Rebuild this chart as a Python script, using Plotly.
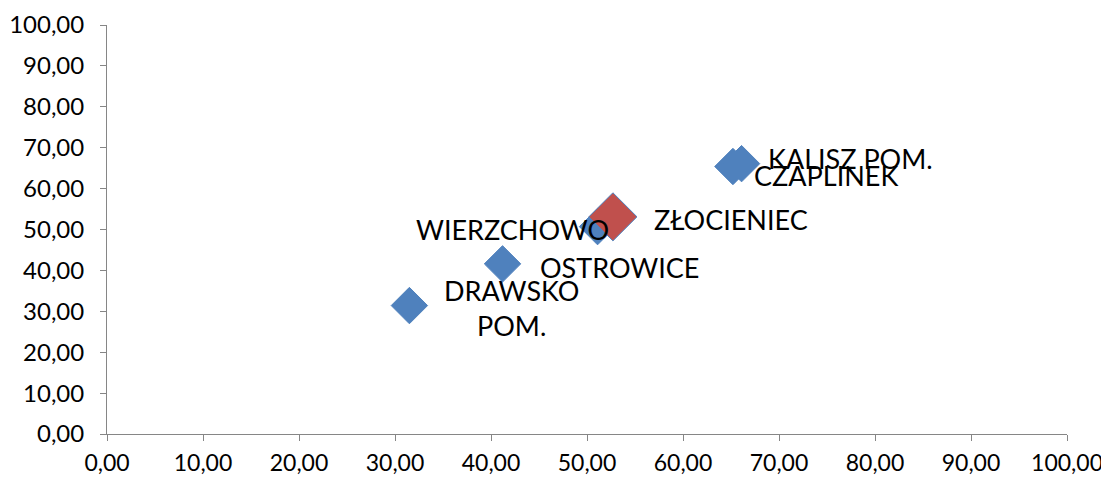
import plotly.graph_objects as go

names = ["DRAWSKO<br>POM.", "OSTROWICE", "WIERZCHOWO", "ZŁOCIENIEC", "CZAPLINEK", "KALISZ POM."]
x_vals = [31.5, 41.2, 51.1, 52.7, 65.2, 66.1]
y_vals = [31.4, 41.6, 50.7, 53.1, 65.4, 66.1]
fill_colors = ["#4F81BD", "#4F81BD", "#4F81BD", "#C0504D", "#4F81BD", "#4F81BD"]
marker_sizes = [28, 28, 28, 37, 28, 28]
label_dx = [102, 117, -85, 118, 93, 109]
label_dy = [-2, -4, -3, -3, -9, 5]
tick_vals = [0, 10, 20, 30, 40, 50, 60, 70, 80, 90, 100]

fig = go.Figure()
fig.add_trace(go.Scatter(
    x=x_vals, y=y_vals, mode="markers",
    marker=dict(symbol="diamond", size=marker_sizes, color=fill_colors, opacity=1,
                line=dict(color="#4F81BD", width=1)),
    hoverinfo="skip", showlegend=False,
))

for n, xv, yv, dx, dy in zip(names, x_vals, y_vals, label_dx, label_dy):
    fig.add_annotation(x=xv, y=yv, text=n, showarrow=False,
                       xshift=dx, yshift=dy, xanchor="center", yanchor="middle",
                       font=dict(family="Lato", size=27, color="#000000"))

axis_common = dict(
    range=[0, 100], tickvals=tick_vals, tickformat=".2f",
    showgrid=False, zeroline=False, showline=True, linecolor="#868686", linewidth=1,
    ticks="outside", ticklen=6, tickcolor="#868686", tickwidth=1,
    automargin=False,
)

fig.update_layout(
    width=1101, height=475, autosize=False,
    margin=dict(l=99, r=42, t=17, b=49),
    paper_bgcolor="white", plot_bgcolor="white",
    separators=", ",
    xaxis=dict(**axis_common, tickfont=dict(family="Lato", size=23, color="#000000"),
               ticklabelstandoff=2),
    yaxis=dict(**axis_common, tickfont=dict(family="Lato", size=24, color="#000000"),
               ticklabelstandoff=11),
)

fig.write_html("out.html")
